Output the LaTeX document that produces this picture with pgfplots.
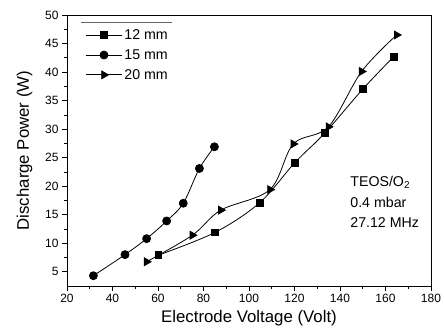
\documentclass[border=0pt]{standalone}
\usepackage{pgfplots}
\pgfplotsset{compat=1.18}
\usepackage{fontspec}
\setmainfont{Liberation Sans}
\begin{document}
\begin{tikzpicture}
\useasboundingbox (-67pt,-48pt) rectangle (377pt,286pt);
\begin{axis}[
  scale only axis, width=364pt, height=271pt,
  at={(0,0)}, anchor=south west,
  xmin=20, xmax=180, ymin=2.5, ymax=50,
  xtick={20,40,...,180}, ytick={5,10,...,50},
  minor x tick num=1, minor y tick num=1,
  tick align=outside, xtick pos=left, ytick pos=left,
  major tick length=5pt, minor tick length=3pt,
  tick style={black, line width=0.6pt},
  axis line style={line width=0.6pt},
  /pgf/number format/assume math mode=true,
  ticklabel style={font=\fontsize{12}{14}\selectfont},
  xlabel={Electrode Voltage (Volt)}, ylabel={Discharge Power (W)},
  label style={font=\fontsize{16.8}{19}\selectfont},
  xlabel style={yshift=0pt}, ylabel style={yshift=6pt},
  legend style={draw=none, fill=none, at={(rel axis cs:0.045,0.962)}, anchor=north west,
    font=\fontsize{14.2}{16}\selectfont, row sep=4.5pt, inner xsep=2pt},
  legend cell align=left,
  legend image code/.code={\draw[mark repeat=2,mark phase=2,#1] plot coordinates {(0pt,0pt) (18pt,0pt) (36pt,0pt)};},
]
\addplot[black, line width=0.8pt, smooth, tension=0.55, mark=square*, mark size=3.3pt, mark options={solid}]
  coordinates {(60.1,7.9) (85.1,11.9) (104.7,17.1) (120.1,24.1) (133.3,29.3) (150,37.0) (163.6,42.7)};
\addlegendentry{12 mm}
\addplot[black, line width=0.8pt, smooth, tension=0.55, mark=*, mark size=4pt]
  coordinates {(31.6,4.3) (45.5,8.0) (55.0,10.8) (63.8,13.9) (71.1,17.0) (78.2,23.1) (84.8,26.9)};
\addlegendentry{15 mm}
\addplot[black, line width=0.8pt, smooth, tension=0.55, mark=triangle*, mark size=4.5pt, mark options={rotate=-90}]
  coordinates {(55.0,6.75) (75.1,11.4) (87.6,15.8) (109.2,19.4) (119.5,27.4) (134.9,30.4) (149.5,40.1) (164.9,46.5)};
\addlegendentry{20 mm}
\draw[black!60, line width=0.6pt] (axis cs:26.2,48.8) -- (axis cs:66.2,48.8);
\node[anchor=west, font=\fontsize{14.2}{16}\selectfont, align=left] at (axis cs:143,20.6) {TEOS/O\textsubscript{2}};
\node[anchor=west, font=\fontsize{14.2}{16}\selectfont] at (axis cs:143,17.1) {0.4 mbar};
\node[anchor=west, font=\fontsize{14.2}{16}\selectfont] at (axis cs:143,13.6) {27.12 MHz};
\end{axis}
\end{tikzpicture}
\end{document}
